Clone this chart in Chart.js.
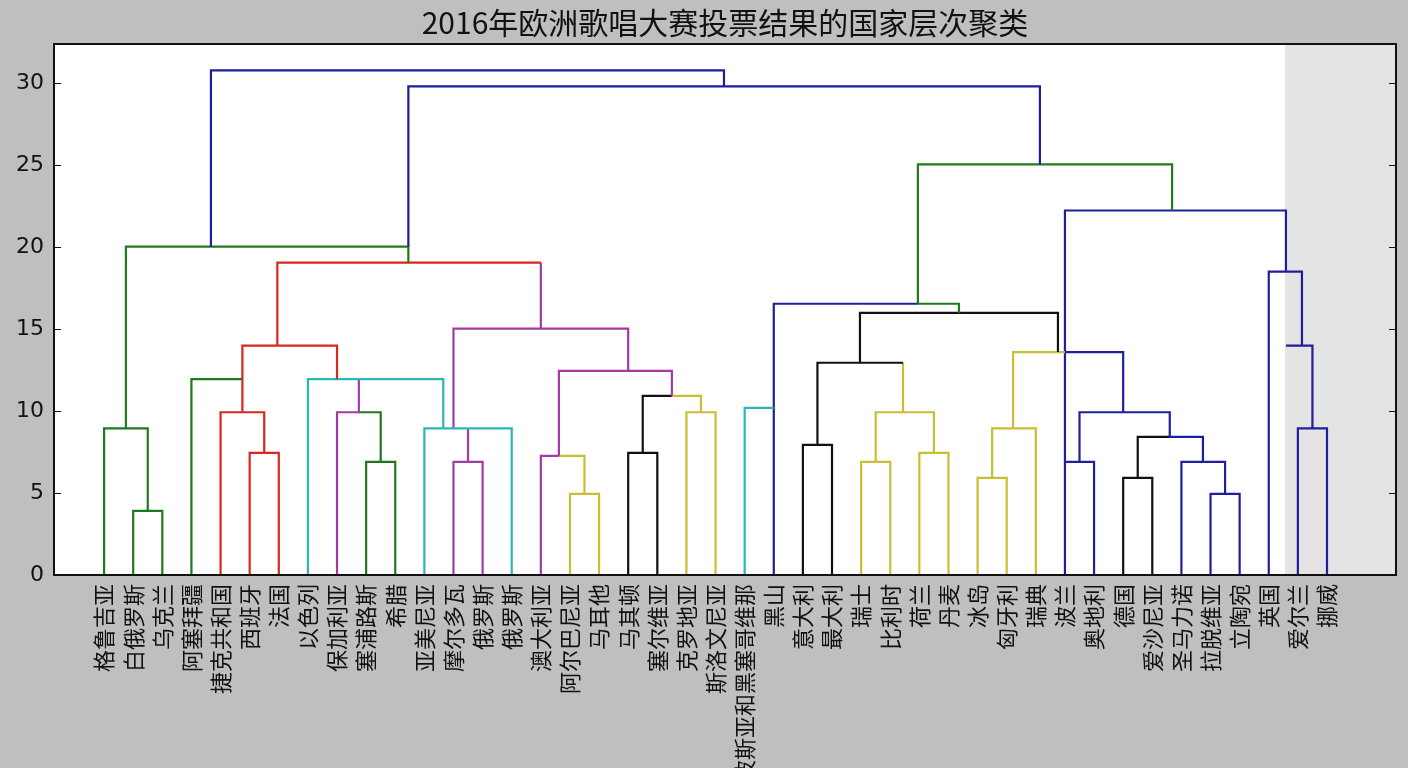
<!DOCTYPE html>
<html>
<head>
<meta charset="utf-8">
<script src="https://cdn.jsdelivr.net/npm/chart.js@4/dist/chart.umd.min.js"></script>
<style>
  html, body { margin: 0; padding: 0; background: #bfbfbf; }
  canvas { display: block; }
</style>
</head>
<body>
<canvas id="chart" width="1408" height="768"></canvas>
<script>
// leaves, left to right
const leafLabels = [
  "格鲁吉亚", "白俄罗斯", "乌克兰", "阿塞拜疆", "捷克共和国", "西班牙", "法国",
  "以色列", "保加利亚", "塞浦路斯", "希腊", "亚美尼亚", "摩尔多瓦", "俄罗斯", "俄罗斯",
  "澳大利亚", "阿尔巴尼亚", "马耳他", "马其顿", "塞尔维亚", "克罗地亚", "斯洛文尼亚",
  "波斯亚和黑塞哥维那", "黑山", "意大利", "最大利", "瑞士", "比利时", "荷兰", "丹麦",
  "冰岛", "匈牙利", "瑞典", "波兰", "奥地利", "德国", "爱沙尼亚", "圣马力诺", "拉脱维亚",
  "立陶宛", "英国", "爱尔兰", "挪威"
];

// link paths: x in leaf positions, y = merge distance
const linkX = [
  [3.67, 3.67, 21.29, 21.29],
  [10.45, 10.45, 32.14, 32.14],
  [0.75, 0.75, 10.45, 10.45],
  [0, 0, 1.5, 1.5],
  [1, 1, 2, 2],
  [3, 3, 4.75],
  [5.95, 5.95, 15],
  [15, 15],
  [4.75, 4.75, 8, 8],
  [4, 4, 5.5, 5.5],
  [5, 5, 6, 6],
  [7, 7, 11.65, 11.65],
  [8, 8, 8.75, 8.75],
  [8.75, 9.5, 9.5],
  [9, 9, 10, 10],
  [11, 11, 14, 14],
  [12, 12, 18, 18],
  [12.5, 12.5],
  [12, 12, 13, 13],
  [15.62, 15.62, 19.5, 19.5],
  [15, 15, 15.62],
  [15.62, 16.5, 16.5],
  [16, 16, 17, 17],
  [18.5, 18.5, 19.5],
  [19.5, 20.5, 20.5],
  [18, 18, 19, 19],
  [20, 20, 21, 21],
  [22, 22, 23],
  [23, 23, 27.95],
  [27.95, 29.36, 29.36],
  [27.95, 27.95, 36.68, 36.68],
  [25.96, 25.96, 32.76, 32.76],
  [24.5, 24.5, 27.44],
  [27.44, 27.44],
  [24, 24, 25, 25],
  [26.5, 26.5, 28.5, 28.5],
  [26, 26, 27, 27],
  [28, 28, 29, 29],
  [31.22, 31.22, 33],
  [33, 35, 35],
  [30.5, 30.5, 32, 32],
  [30, 30, 31, 31],
  [33, 33, 40.59, 40.59],
  [33.5, 33.5, 36.6, 36.6],
  [33, 34, 34],
  [35.5, 35.5, 36.6],
  [36.6, 37.74, 37.74],
  [35, 35, 36, 36],
  [37, 37, 38.5, 38.5],
  [38, 38, 39, 39],
  [40, 40, 41.14, 41.14],
  [40.59, 41.5, 41.5],
  [41, 41, 42, 42]
];
const linkY = [
  [20.04, 30.79, 30.79, 29.81],
  [20.04, 29.81, 29.81, 25.05],
  [8.95, 20.04, 20.04, 19.06],
  [0, 8.95, 8.95, 3.91],
  [0, 3.91, 3.91, 0],
  [0, 11.95, 11.95],
  [13.99, 19.06, 19.06],
  [19.06, 15.03],
  [9.93, 13.99, 13.99, 11.95],
  [0, 9.93, 9.93, 7.45],
  [0, 7.45, 7.45, 0],
  [0, 11.95, 11.95, 8.95],
  [0, 9.93, 9.93, 11.95],
  [9.93, 9.93, 6.9],
  [0, 6.9, 6.9, 0],
  [0, 8.95, 8.95, 0],
  [8.95, 15.03, 15.03, 12.46],
  [8.95, 6.9],
  [0, 6.9, 6.9, 0],
  [7.27, 12.46, 12.46, 10.93],
  [0, 7.27, 7.27],
  [7.27, 7.27, 4.95],
  [0, 4.95, 4.95, 0],
  [7.45, 10.93, 10.93],
  [10.93, 10.93, 9.93],
  [0, 7.45, 7.45, 0],
  [0, 9.93, 9.93, 0],
  [0, 10.2, 10.2],
  [0, 16.55, 16.55],
  [16.55, 16.55, 16.0],
  [16.55, 25.05, 25.05, 22.24],
  [12.95, 16.0, 16.0, 13.6],
  [7.94, 12.95, 12.95],
  [12.95, 9.93],
  [0, 7.94, 7.94, 0],
  [6.9, 9.93, 9.93, 7.45],
  [0, 6.9, 6.9, 0],
  [0, 7.45, 7.45, 0],
  [8.95, 13.6, 13.6],
  [13.6, 13.6, 9.93],
  [5.93, 8.95, 8.95, 0],
  [0, 5.93, 5.93, 0],
  [0, 22.24, 22.24, 18.51],
  [6.9, 9.93, 9.93, 8.43],
  [6.9, 6.9, 0],
  [5.93, 8.43, 8.43],
  [8.43, 8.43, 6.9],
  [0, 5.93, 5.93, 0],
  [0, 6.9, 6.9, 4.95],
  [0, 4.95, 4.95, 0],
  [0, 18.51, 18.51, 13.99],
  [13.99, 13.99, 8.95],
  [0, 8.95, 8.95, 0]
];
const linkColor = [
  "b", "b", "g", "g", "g", "g", "r", "m", "r", "r", "r", "c", "m", "g", "g", "c",
  "m", "m", "m", "m", "m", "y", "y", "k", "y", "k", "y", "c", "b", "g", "g", "k",
  "k", "y", "k", "y", "y", "y", "y", "b", "y", "y", "b", "b", "b", "k", "b", "k",
  "b", "b", "b", "b", "b"
];
const yTicks = [0, 5, 10, 15, 20, 25, 30];
const shadeFrom = 40.56;

const palette = {
  b: "#1f1f9e", g: "#1f7a1f", r: "#d8281e", c: "#2db6b6",
  m: "#a23aa8", y: "#c8bf34", k: "#111111"
};

const datasets = linkX.map((xs, i) => ({
  data: xs.map((x, j) => ({ x: x, y: linkY[i][j] })),
  borderColor: palette[linkColor[i]],
  borderWidth: 2.2,
  pointRadius: 0,
  fill: false,
  tension: 0
}));

const framePlugin = {
  id: "frame",
  beforeDatasetsDraw(chart) {
    const { ctx, chartArea: a, scales } = chart;
    ctx.save();
    ctx.fillStyle = "#ffffff";
    ctx.fillRect(a.left, a.top, a.right - a.left, a.bottom - a.top);
    const sx = scales.x.getPixelForValue(shadeFrom);
    ctx.fillStyle = "#e4e4e4";
    ctx.fillRect(sx, a.top, a.right - sx, a.bottom - a.top);
    ctx.restore();
  },
  afterDatasetsDraw(chart) {
    const { ctx, chartArea: a, scales } = chart;
    ctx.save();
    ctx.strokeStyle = "#111111";
    ctx.lineWidth = 1;
    ctx.beginPath();
    yTicks.forEach(v => {
      const py = Math.round(scales.y.getPixelForValue(v)) + 0.5;
      ctx.moveTo(a.left, py); ctx.lineTo(a.left + 7, py);
      ctx.moveTo(a.right, py); ctx.lineTo(a.right - 7, py);
    });
    ctx.stroke();
    ctx.lineWidth = 2;
    ctx.strokeRect(a.left, a.top, a.right - a.left, a.bottom - a.top);
    ctx.restore();
  }
};

new Chart(document.getElementById("chart"), {
  type: "line",
  data: { datasets: datasets },
  options: {
    responsive: false,
    animation: false,
    devicePixelRatio: 1,
    layout: { padding: { right: 12, left: 0, top: 0, bottom: 0 } },
    plugins: {
      legend: { display: false },
      tooltip: { enabled: false },
      title: {
        display: true,
        fullSize: false, // centre over the plot area
        text: "2016年欧洲歌唱大赛投票结果的国家层次聚类",
        color: "#111111",
        font: { family: "Noto Sans CJK SC", size: 30, weight: "normal", lineHeight: 1.2 },
        padding: { top: 5, bottom: 3 }
      }
    },
    scales: {
      x: {
        type: "linear",
        min: -1.72,
        max: 44.37,
        grid: { display: false, drawTicks: false },
        border: { display: false },
        afterBuildTicks: (scale) => {
          scale.ticks = leafLabels.map((_, i) => ({ value: i }));
        },
        afterFit: (scale) => { scale.height = 193; },
        ticks: {
          autoSkip: false,
          includeBounds: false,
          minRotation: 90,
          maxRotation: 90,
          padding: 9,
          color: "#111111",
          font: { family: "Noto Sans CJK SC", size: 22 },
          callback: (v) => leafLabels[v]
        }
      },
      y: {
        min: 0,
        max: 32.4,
        grid: { display: false, drawTicks: false },
        border: { display: false },
        afterBuildTicks: (scale) => {
          scale.ticks = yTicks.map(v => ({ value: v }));
        },
        afterFit: (scale) => { scale.width = 54; },
        ticks: {
          includeBounds: false,
          padding: 10,
          color: "#111111",
          font: { family: "DejaVu Sans", size: 22 }
        }
      }
    }
  },
  plugins: [framePlugin]
});
</script>
</body>
</html>
